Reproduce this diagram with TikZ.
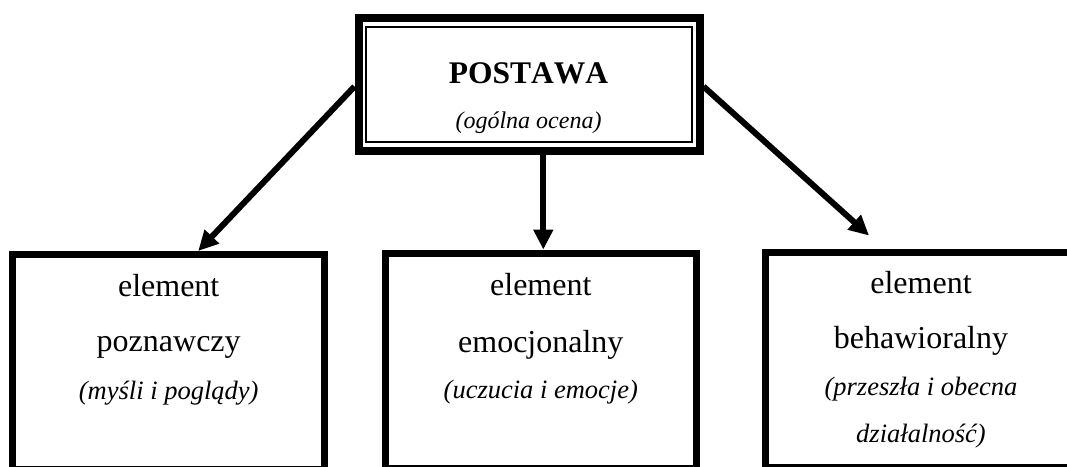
\documentclass[tikz,border=0pt]{standalone}
\usepackage{fontspec}
\setmainfont{Liberation Serif}[Kerning=Off]
\usetikzlibrary{arrows.meta}
\tikzset{
  outerframe/.style={draw, line width=8pt, minimum width=341pt, minimum height=133pt, inner sep=0pt},
  innerframe/.style={draw, line width=2pt, minimum width=326pt, minimum height=115.5pt, inner sep=0pt},
  elembox/.style={draw, line width=7pt, minimum width=311.5pt, minimum height=215pt, inner sep=0pt},
  bigtxt/.style={anchor=base, inner sep=0pt, font=\fontsize{32}{36}\selectfont},
  smalltxt/.style={anchor=base, inner sep=0pt, font=\fontsize{26.5}{30}\selectfont\itshape},
  headtxt/.style={anchor=base, inner sep=0pt, font=\fontsize{31.5}{36}\selectfont\bfseries},
  subtxt/.style={anchor=base, inner sep=0pt, font=\fontsize{24}{28}\selectfont\itshape},
  link/.style={line width=6pt, -{Triangle[length=20pt,width=19pt]}}
}
\begin{document}
\begin{tikzpicture}[x=1pt,y=-1pt]
\useasboundingbox (0,0) rectangle (1067,466);
\clip (0,0) rectangle (1067,466);

% attitude box with double frame
\node[outerframe] (top) at (529,84.5) {};
\node[innerframe] (topin) at (528.9,84.3) {};
\node[headtxt] (t1) at (528.5,83) {POSTAWA};
\node[subtxt] (t2) at (528.5,128) {(ogólna ocena)};

% the three components
\node[elembox] (cog) at (168.7,362) {};
\node[elembox] (emo) at (540.8,360.5) {};
\node[elembox] (beh) at (921,359.5) {};

\node[bigtxt] (c1) at (168.7,296) {element};
\node[bigtxt] (c2) at (168.7,351) {poznawczy};
\node[smalltxt] (c3) at (168.7,399) {(myśli i poglądy)};

\node[bigtxt] (e1) at (540.8,295) {element};
\node[bigtxt] (e2) at (540.8,352) {emocjonalny};
\node[smalltxt] (e3) at (540.8,398) {(uczucia i emocje)};

\node[bigtxt] (b1) at (921,293) {element};
\node[bigtxt] (b2) at (921,348) {behawioralny};
\node[smalltxt] (b3) at (921,395) {(przeszła i obecna};
\node[smalltxt] (b4) at (921,442) {działalność)};

% connectors
\coordinate (cogtip) at ([xshift=29.5pt]cog.north);
\coordinate (behtip) at ([xshift=-52pt,yshift=13pt]beh.north);
\draw[link] ([yshift=-2pt]top.west) -- (cogtip);
\draw[link] ([xshift=14.3pt]top.south) -- ([xshift=2.5pt]emo.north);
\draw[link] ([yshift=-2pt]top.east) -- (behtip);
\end{tikzpicture}
\end{document}
